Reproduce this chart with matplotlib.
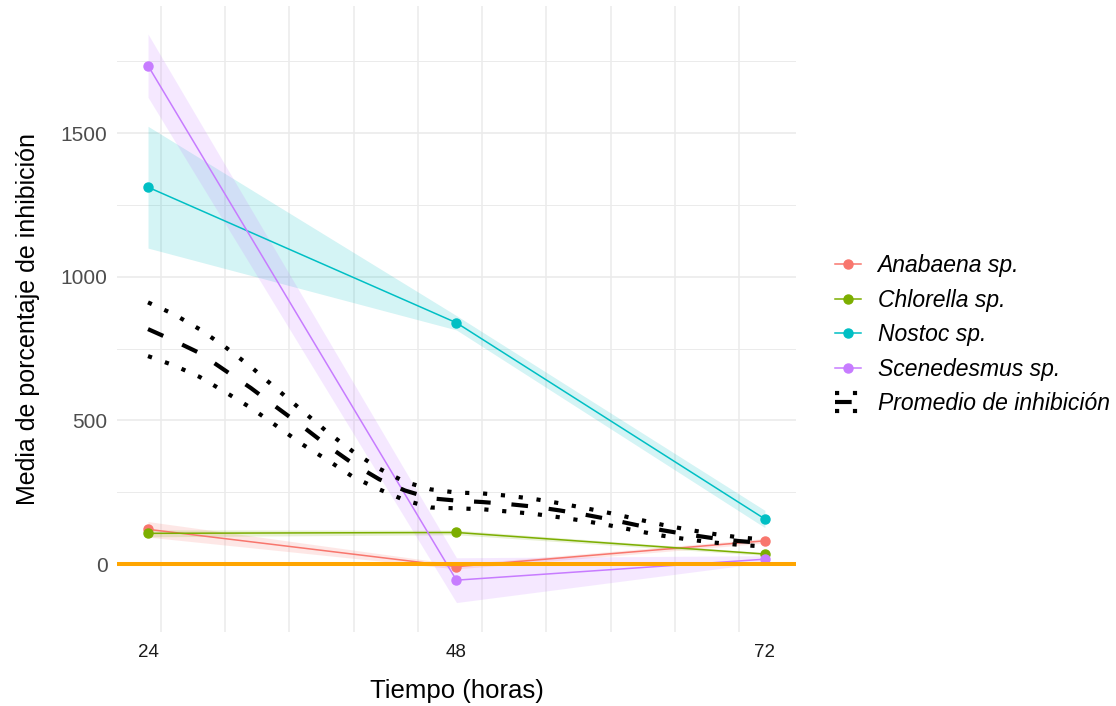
import numpy as np
import matplotlib
matplotlib.use('Agg')
import matplotlib.pyplot as plt
from matplotlib.lines import Line2D
from matplotlib.legend_handler import HandlerBase
from matplotlib.ticker import MultipleLocator

plt.rcParams['font.family'] = ['Liberation Sans', 'DejaVu Sans']

# data ==========================================================================
tiempo = [24, 48, 72]
especies = ['Anabaena sp.', 'Chlorella sp.', 'Nostoc sp.', 'Scenedesmus sp.']
colores = ['#F8766D', '#7CAE00', '#00BFC4', '#C77CFF']

anabaena = [121, -9, 81]
chlorella = [107, 110, 35]
nostoc = [1312, 840, 157]
scenedesmus = [1735, -56, 17]

# half width of the shaded band at each time
err_anabaena = [27, 8, 8]
err_chlorella = [12, 8, 5]
err_nostoc = [212, 25, 30]
err_scenedesmus = [110, 78, 12]

# smoothed average curve and its dotted bounds
t_suave = [24, 26, 28, 30, 32, 34, 36, 38, 40, 42, 44, 46, 48,
           50, 52, 54, 56, 58, 60, 62, 64, 66, 68, 70, 72]
promedio = [818, 778, 735, 674, 613, 546, 480, 411, 348, 295, 256, 229, 221,
            216, 209, 200, 187, 172, 155, 136, 118, 103, 90, 80, 73]
promedio_sup = [911, 870, 818, 756, 687, 610, 534, 458, 390, 332, 286, 260, 249,
                246, 238, 227, 212, 195, 177, 157, 137, 120, 105, 93, 85]
promedio_inf = [724, 692, 652, 599, 544, 481, 417, 361, 302, 260, 222, 197, 194,
                191, 183, 175, 163, 150, 134, 116, 99, 86, 75, 67, 61]

medias = [anabaena, chlorella, nostoc, scenedesmus]
errores = [err_anabaena, err_chlorella, err_nostoc, err_scenedesmus]

DOTS = (1, 3.3)
DASH = (4, 5)


class HandlerPromedio(HandlerBase):
    # legend key: dotted / dashed / dotted stacked
    def create_artists(self, legend, orig_handle, xdescent, ydescent,
                       width, height, fontsize, trans):
        x0, x1 = -xdescent, width - xdescent
        yc = height / 2 - ydescent
        arts = []
        for dy, d in [(6.5, DOTS), (0, DASH), (-6.5, DOTS)]:
            ln = Line2D([x0, x1], [yc + dy, yc + dy], color='black', lw=3, dashes=d)
            ln.set_transform(trans)
            arts.append(ln)
        return arts


# plot ==========================================================================
fig = plt.figure(figsize=(11.16, 7.06), dpi=100)
ax = fig.add_axes([0.105, 0.105, 0.608, 0.887])

t = np.array(tiempo)
for m, e, c in zip(medias, errores, colores):
    m = np.array(m)
    e = np.array(e)
    ax.fill_between(t, m - e, m + e, color=c, alpha=0.17, lw=0, zorder=1)
for m, c in zip(medias, colores):
    ax.plot(t, m, color=c, lw=1.1, marker='o', markersize=6.5, zorder=3)

ax.axhline(0, color='#FFA500', lw=2.9, zorder=4)

ax.plot(t_suave, promedio, color='black', lw=3, dashes=DASH, zorder=5)
ax.plot(t_suave, promedio_sup, color='black', lw=3, dashes=DOTS, zorder=5)
ax.plot(t_suave, promedio_inf, color='black', lw=3, dashes=DOTS, zorder=5)

ax.set_xlim(21.6, 74.4)
ax.set_ylim(-236, 1944)

ax.set_xticks(tiempo)
ax.xaxis.set_minor_locator(MultipleLocator(5))
ax.set_yticks([0, 500, 1000, 1500])
ax.yaxis.set_minor_locator(MultipleLocator(250))

ax.grid(False, which='major', axis='x')
ax.grid(True, which='minor', axis='x', color='#EBEBEB', lw=1.1)
ax.grid(True, which='major', axis='y', color='#EBEBEB', lw=1.2)
ax.grid(True, which='minor', axis='y', color='#EBEBEB', lw=0.7)
ax.set_axisbelow(True)

ax.tick_params(which='both', length=0)
ax.tick_params(axis='x', labelsize=13.5, labelcolor='#1A1A1A', pad=9)
ax.tick_params(axis='y', labelsize=15, labelcolor='#4D4D4D', pad=7)
for s in ax.spines.values():
    s.set_visible(False)

ax.set_xlabel('Tiempo (horas)', fontsize=18.5, labelpad=13)
ax.set_ylabel('Media de porcentaje de inhibición', fontsize=18, labelpad=15)

handles = [Line2D([], [], color=c, lw=1.1, marker='o', markersize=6.5) for c in colores]
handles.append(object())
labels = especies + ['Promedio de inhibición']
fig.legend(handles, labels, loc='center left', bbox_to_anchor=(0.748, 0.526),
           frameon=False, borderpad=0, borderaxespad=0, handlelength=1.13,
           handletextpad=0.74, labelspacing=0.5,
           prop={'size': 16.5, 'style': 'italic'},
           handler_map={object: HandlerPromedio()})

fig.savefig('out.png', dpi=100)
